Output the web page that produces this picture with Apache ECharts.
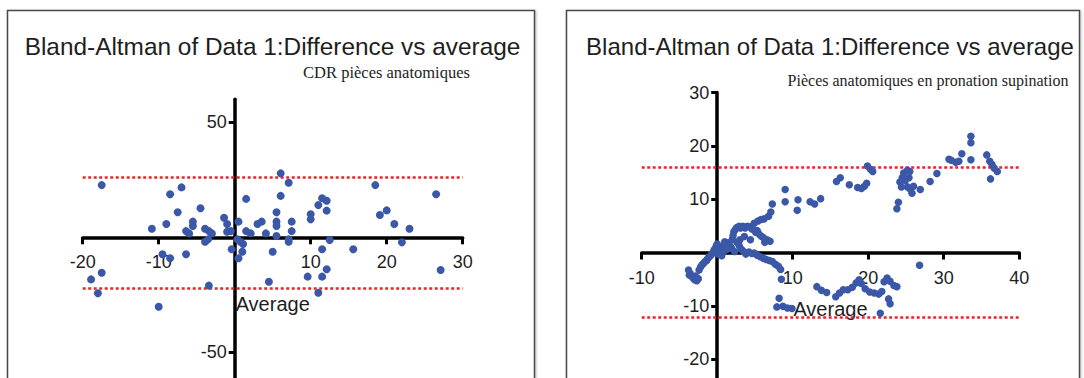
<!DOCTYPE html>
<html>
<head>
<meta charset="utf-8">
<title>Bland-Altman</title>
<script src="https://cdn.jsdelivr.net/npm/echarts@6/dist/echarts.min.js"></script>
<style>
  html, body { margin: 0; padding: 0; background: #ffffff; }
  #chart { width: 1084px; height: 378px; }
</style>
</head>
<body>
<div id="chart"></div>
<script>
// ---- Panel 1: CDR pièces anatomiques ----
const cdrAverage = [
  -17.5, -18.9, -17.5, -18.0, -10.0,
  -10.9, -9.0, -9.5, -8.5, -8.5, -7.0, -7.5, -6.4,
  -6.4, -6.0, -5.5, -5.5, -4.5,
  -3.9, -3.4, -3.0, -3.9, -3.5, -3.4,
  -1.4, -1.0, -1.0, -0.5, -0.4,
  0.5, 0.35, 0.75, 1.1, 1.0, 0.5,
  1.5, 1.5, 2.1, 3.0, 3.55, 4.1, 5.0, 4.5,
  5.5, 5.5, 5.5, 5.5, 6.05, 6.05, 7.1, 7.1, 7.1, 7.5, 7.5,
  10.0, 10.0, 9.6, 11.0, 11.5, 12.1, 12.1, 11.5, 12.1, 11.5, 11.0, 12.5,
  15.6, 18.5, 19.1, 20.0, 21.0, 22.0, 23.0, 26.5, 27.1
];
const cdrDifference = [
  22.7, -18.3, -15.4, -24.3, -30.2,
  3.7, 5.8, -7.4, -9.1, 18.7, 21.7, 10.9, -7.4,
  2.7, 1.7, 6.8, 4.9, 12.6,
  3.7, 2.7, 1.7, -1.9, -0.9, -21.0,
  8.5, 5.8, 2.4, 2.7, -5.2,
  6.8, -0.9, -1.9, -2.9, -6.3, -9.1,
  16.7, 2.7, 1.7, 5.8, 6.8, 1.7, -6.3, -19.3,
  10.9, 6.8, 4.9, 0.6, 27.8, 18.0, 23.7, -0.9, -1.9, 6.8, 2.7,
  10.0, 7.8, -17.1, 14.0, 17.0, 15.9, 11.6, -5.2, -13.9, -17.1, -24.1, -1.2,
  -5.2, 22.7, 9.7, 11.7, 5.8, -2.2, 3.7, 18.7, -14.2
];
const cdrLimits = [25.9, -22.2];
const cdrXTicks = [-20, -10, 10, 20, 30];
const cdrYTicks = [-50, 50];

// ---- Panel 2: Pièces anatomiques en pronation supination ----
const psAverage = [
  -3.8, -3.6, -3.4, -3.2, -3.0, -2.7, -2.5, -3.7, -2.9,
  -2.4, -2.2, -2.0, -1.8, -1.6, -1.4, -1.3, -1.1, -0.9, -0.7, -0.5, -0.4, -0.2, -0.1, 0.0,
  0.1, 0.3, 0.5, 0.7, 0.9, 1.1, 1.3, 1.5, 1.7, 1.9, 2.0, 2.1, 2.2, 2.4, 2.6, 2.9,
  3.1, 3.4, 3.7, 4.0, 4.4, 4.6, 4.9, 5.1, 5.3, 5.5, 5.8, 6.1, 6.3, 6.6, 7.0,
  2.6, 2.9, 3.2, 3.5, 3.8, 4.2, 4.6, 4.9, 5.3, 5.7, 6.1, 6.5, 6.9, 7.3, 7.7, 8.1, 8.4, 8.5,
  3.0, 3.6, 4.4, 1.0, 0.6, 2.3,
  4.9, 5.4, 5.8, 6.2, 6.8, 7.1, 7.3,
  9.0, 9.0, 10.7, 10.6, 12.3, 12.9, 13.7,
  15.8, 16.3, 17.5, 18.6, 19.1, 19.5, 19.8, 19.9, 20.3, 20.6,
  23.8, 24.0, 24.2, 24.4, 24.5, 24.7, 24.9, 25.2, 25.2, 25.4, 25.5, 25.6, 25.8, 26.0, 26.9, 28.2, 29.1,
  30.7, 31.0, 31.6, 32.0, 32.4, 33.6, 33.6, 33.6, 35.7, 36.1, 36.4, 36.7, 37.1, 36.2,
  7.9, 8.2, 8.7, 9.3, 9.9,
  13.2, 13.8, 14.5, 15.7, 16.2, 16.7, 17.3, 17.9, 18.4, 18.8, 19.1, 19.6, 20.2, 20.8, 21.4, 21.8,
  22.1, 22.5, 22.9, 23.4, 23.8, 22.7, 22.9, 21.6, 26.8
];
const psDifference = [
  -3.3, -3.9, -4.4, -4.8, -5.1, -5.3, -4.9, -4.2, -4.4,
  -3.3, -2.7, -2.3, -2.0, -1.7, -1.5, -1.2, -0.9, -0.6, -0.3, 0.1, 0.5, 0.9, 1.3, 1.6,
  -0.3, 0.4, 0.9, 1.2, 0.3, 1.1, 0.6, 1.8, 1.2, 0.8, 2.5, 3.2, 3.9, 4.3, 4.7, 4.9,
  4.6, 4.9, 4.6, 4.9, 4.8, 4.4, 4.2, 3.8, 4.1, 3.5, 3.1, 2.8, 1.9, 2.4, 2.1,
  1.9, 1.3, 0.6, 0.2, -0.3, 0.1, -0.2, -0.1, -0.5, -0.8, -1.1, -1.3, -1.5, -1.7, -2.2, -2.6, -3.2, -5.0,
  2.4, 3.0, 2.4, 2.0, -0.6, 0.2,
  5.5, 5.9, 6.2, 6.3, 6.8, 7.6, 9.1,
  11.8, 9.5, 9.9, 7.9, 9.5, 9.1, 10.1,
  13.3, 14.0, 12.7, 12.2, 12.0, 12.4, 13.0, 16.2, 15.6, 15.2,
  8.2, 9.4, 13.2, 12.3, 14.0, 14.9, 13.5, 15.4, 12.3, 14.0, 15.2, 11.8, 11.1, 12.4, 11.8, 13.3, 14.8,
  17.5, 17.3, 16.9, 17.1, 18.5, 21.8, 20.6, 17.4, 18.3, 17.1, 16.5, 15.8, 15.2, 13.8,
  -10.2, -8.6, -10.1, -10.4, -10.5,
  -6.4, -7.1, -7.5, -8.3, -7.6, -7.0, -7.0, -6.5, -5.7, -5.1, -5.8, -6.8, -7.4, -7.6, -7.8, -7.3,
  -5.5, -4.8, -5.4, -6.2, -6.4, -8.7, -9.6, -11.4, -2.4
];
const psLimits = [16.0, -12.1];
const psXTicks = [-10, 10, 20, 30, 40];
const psYTicks = [-20, -10, 10, 20, 30];

const titleText = 'Bland-Altman of Data 1:Difference vs average';
const subtitles = ['CDR pièces anatomiques', 'Pièces anatomiques en pronation supination'];
const xName = 'Average';

const SANS = '"Liberation Sans", Arial, sans-serif';
const SERIF = '"Liberation Serif", "Times New Roman", serif';
const DOT_COLOR = '#3b58a8';
const LIMIT_COLOR = '#e8262a';
const TEXT_COLOR = '#1e1e1e';

// Plot areas (pixels) and value ranges of the two panels
const panels = [
  { grid: { left: 82.7, top: 99.3, width: 380, height: 280.6 }, x: [-20, 30], y: [-62, 60] },
  { grid: { left: 641.7, top: 92.5, width: 377.5, height: 288 }, x: [-10, 40], y: [-24, 30] }
];

function pairs(xs, ys) {
  return xs.map((x, i) => [x, ys[i]]);
}

// Both axes cross at zero: shift each axis from its grid edge to the zero of the other scale.
function zeroShiftX(p) { // distance from the bottom edge up to y = 0
  return (0 - p.y[0]) / (p.y[1] - p.y[0]) * p.grid.height;
}
function zeroShiftY(p) { // distance from the left edge right to x = 0
  return (0 - p.x[0]) / (p.x[1] - p.x[0]) * p.grid.width;
}

function xAxisFor(i, ticks, nameGap) {
  const p = panels[i];
  return {
    type: 'value', gridIndex: i, min: p.x[0], max: p.x[1],
    position: 'bottom', offset: -zeroShiftX(p),
    axisLine: { onZero: false, lineStyle: { color: '#000', width: 3.5 } },
    axisTick: { show: true, customValues: ticks, length: 7, lineStyle: { color: '#000', width: 3 } },
    axisLabel: { customValues: ticks, fontSize: 18, fontFamily: SANS, color: TEXT_COLOR, margin: 16 },
    splitLine: { show: false },
    name: xName, nameLocation: 'middle', nameGap,
    nameTextStyle: { fontSize: 20, fontFamily: SANS, color: TEXT_COLOR }
  };
}

function yAxisFor(i, ticks) {
  const p = panels[i];
  return {
    type: 'value', gridIndex: i, min: p.y[0], max: p.y[1],
    position: 'left', offset: -zeroShiftY(p),
    axisLine: { onZero: false, lineStyle: { color: '#000', width: 3.5 } },
    axisTick: { show: true, customValues: ticks, length: 6, lineStyle: { color: '#000', width: 3 } },
    axisLabel: { customValues: ticks, fontSize: 18, fontFamily: SANS, color: TEXT_COLOR, margin: 8 },
    splitLine: { show: false }
  };
}

function scatterFor(index, data, limits, size) {
  return {
    type: 'scatter', xAxisIndex: index, yAxisIndex: index,
    data, symbolSize: size, z: 3,
    itemStyle: { color: DOT_COLOR, opacity: 1 },
    markLine: {
      silent: true, symbol: 'none', z: 1, animation: false,
      label: { show: false },
      lineStyle: { color: LIMIT_COLOR, type: [3, 2.5], width: 2.5 },
      data: limits.map(v => ({ yAxis: v }))
    }
  };
}

function frame(x, y, w, h) {
  return {
    type: 'rect', z: -10, silent: true,
    shape: { x, y, width: w, height: h },
    style: { fill: '#fff', stroke: '#4a4a4a', lineWidth: 1.5,
             shadowBlur: 3, shadowColor: 'rgba(0,0,0,0.25)', shadowOffsetX: 1, shadowOffsetY: 1 }
  };
}

function label(text, x, y, font) {
  return {
    type: 'text', x, y, silent: true, z: 10,
    style: { text, font, fill: TEXT_COLOR,
             align: 'center', verticalAlign: 'middle',
             textAlign: 'center', textVerticalAlign: 'middle' }
  };
}

const chart = echarts.init(document.getElementById('chart'), null, { renderer: 'svg' });
chart.setOption({
  animation: false,
  backgroundColor: '#ffffff',
  graphic: [
    frame(7.5, 10.5, 527, 400),
    frame(566.5, 10.5, 513, 400),
    label(titleText, 272.5, 46, '24.4px ' + SANS),
    label(titleText, 830, 46, '24px ' + SANS),
    label(subtitles[0], 386.5, 72, '16.5px ' + SERIF),
    label(subtitles[1], 928, 80, '16px ' + SERIF)
  ],
  grid: panels.map(p => Object.assign({ containLabel: false, outerBoundsMode: 'none' }, p.grid)),
  xAxis: [
    xAxisFor(0, cdrXTicks, 57),
    xAxisFor(1, psXTicks, 46)
  ],
  yAxis: [
    yAxisFor(0, cdrYTicks),
    yAxisFor(1, psYTicks)
  ],
  series: [
    scatterFor(0, pairs(cdrAverage, cdrDifference), cdrLimits, 8),
    scatterFor(1, pairs(psAverage, psDifference), psLimits, 7.5)
  ]
});
</script>
</body>
</html>
